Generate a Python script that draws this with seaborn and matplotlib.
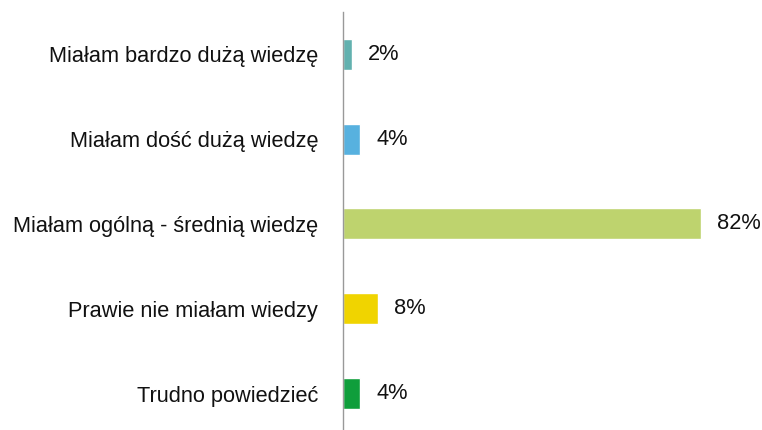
import matplotlib
matplotlib.use("Agg")
import matplotlib.pyplot as plt
from matplotlib import font_manager
import seaborn as sns
import pandas as pd

categories = [
    "Miałam bardzo dużą wiedzę",
    "Miałam dość dużą wiedzę",
    "Miałam ogólną - średnią wiedzę",
    "Prawie nie miałam wiedzy",
    "Trudno powiedzieć",
]
values = [2, 4, 82, 8, 4]
colors = ["#62B1AF", "#57B1DF", "#BED36E", "#F0D400", "#0F9E3B"]

sns.set_theme(style="white")
names = {f.name for f in font_manager.fontManager.ttflist}
if "Liberation Sans Narrow" in names:
    fam = ["Liberation Sans Narrow", "DejaVu Sans"]
    fs = 19
else:
    fam = ["Liberation Sans", "DejaVu Sans"]
    fs = 15.7
plt.rcParams["font.family"] = fam

df = pd.DataFrame({"cat": categories, "val": values})

fig = plt.figure(figsize=(7.62, 4.30), dpi=100)
W, H = 762, 430
ax = fig.add_axes([343 / W, 0 / H, (W - 343) / W, (H - 12) / H])

sns.barplot(data=df, y="cat", x="val", hue="cat", palette=colors,
            order=categories, hue_order=categories, legend=False,
            width=0.366, orient="h", ax=ax, saturation=1)

ax.set_xlim(0, (W - 343) / 4.366)
ax.set_ylim(4.43, -0.5)
ax.set_xlabel("")
ax.set_ylabel("")
ax.set_xticks([])
for s in ["top", "right", "bottom"]:
    ax.spines[s].set_visible(False)
ax.spines["left"].set_color("#999999")
ax.spines["left"].set_linewidth(1.0)
ax.tick_params(axis="y", length=0, pad=18, labelsize=fs, labelcolor="#111111")

for i, v in enumerate(values):
    ax.text(v + 16 / 4.366, i, f"{v}%", va="center", ha="left",
            fontsize=fs, color="#111111")

fig.savefig("out.png", dpi=100)
